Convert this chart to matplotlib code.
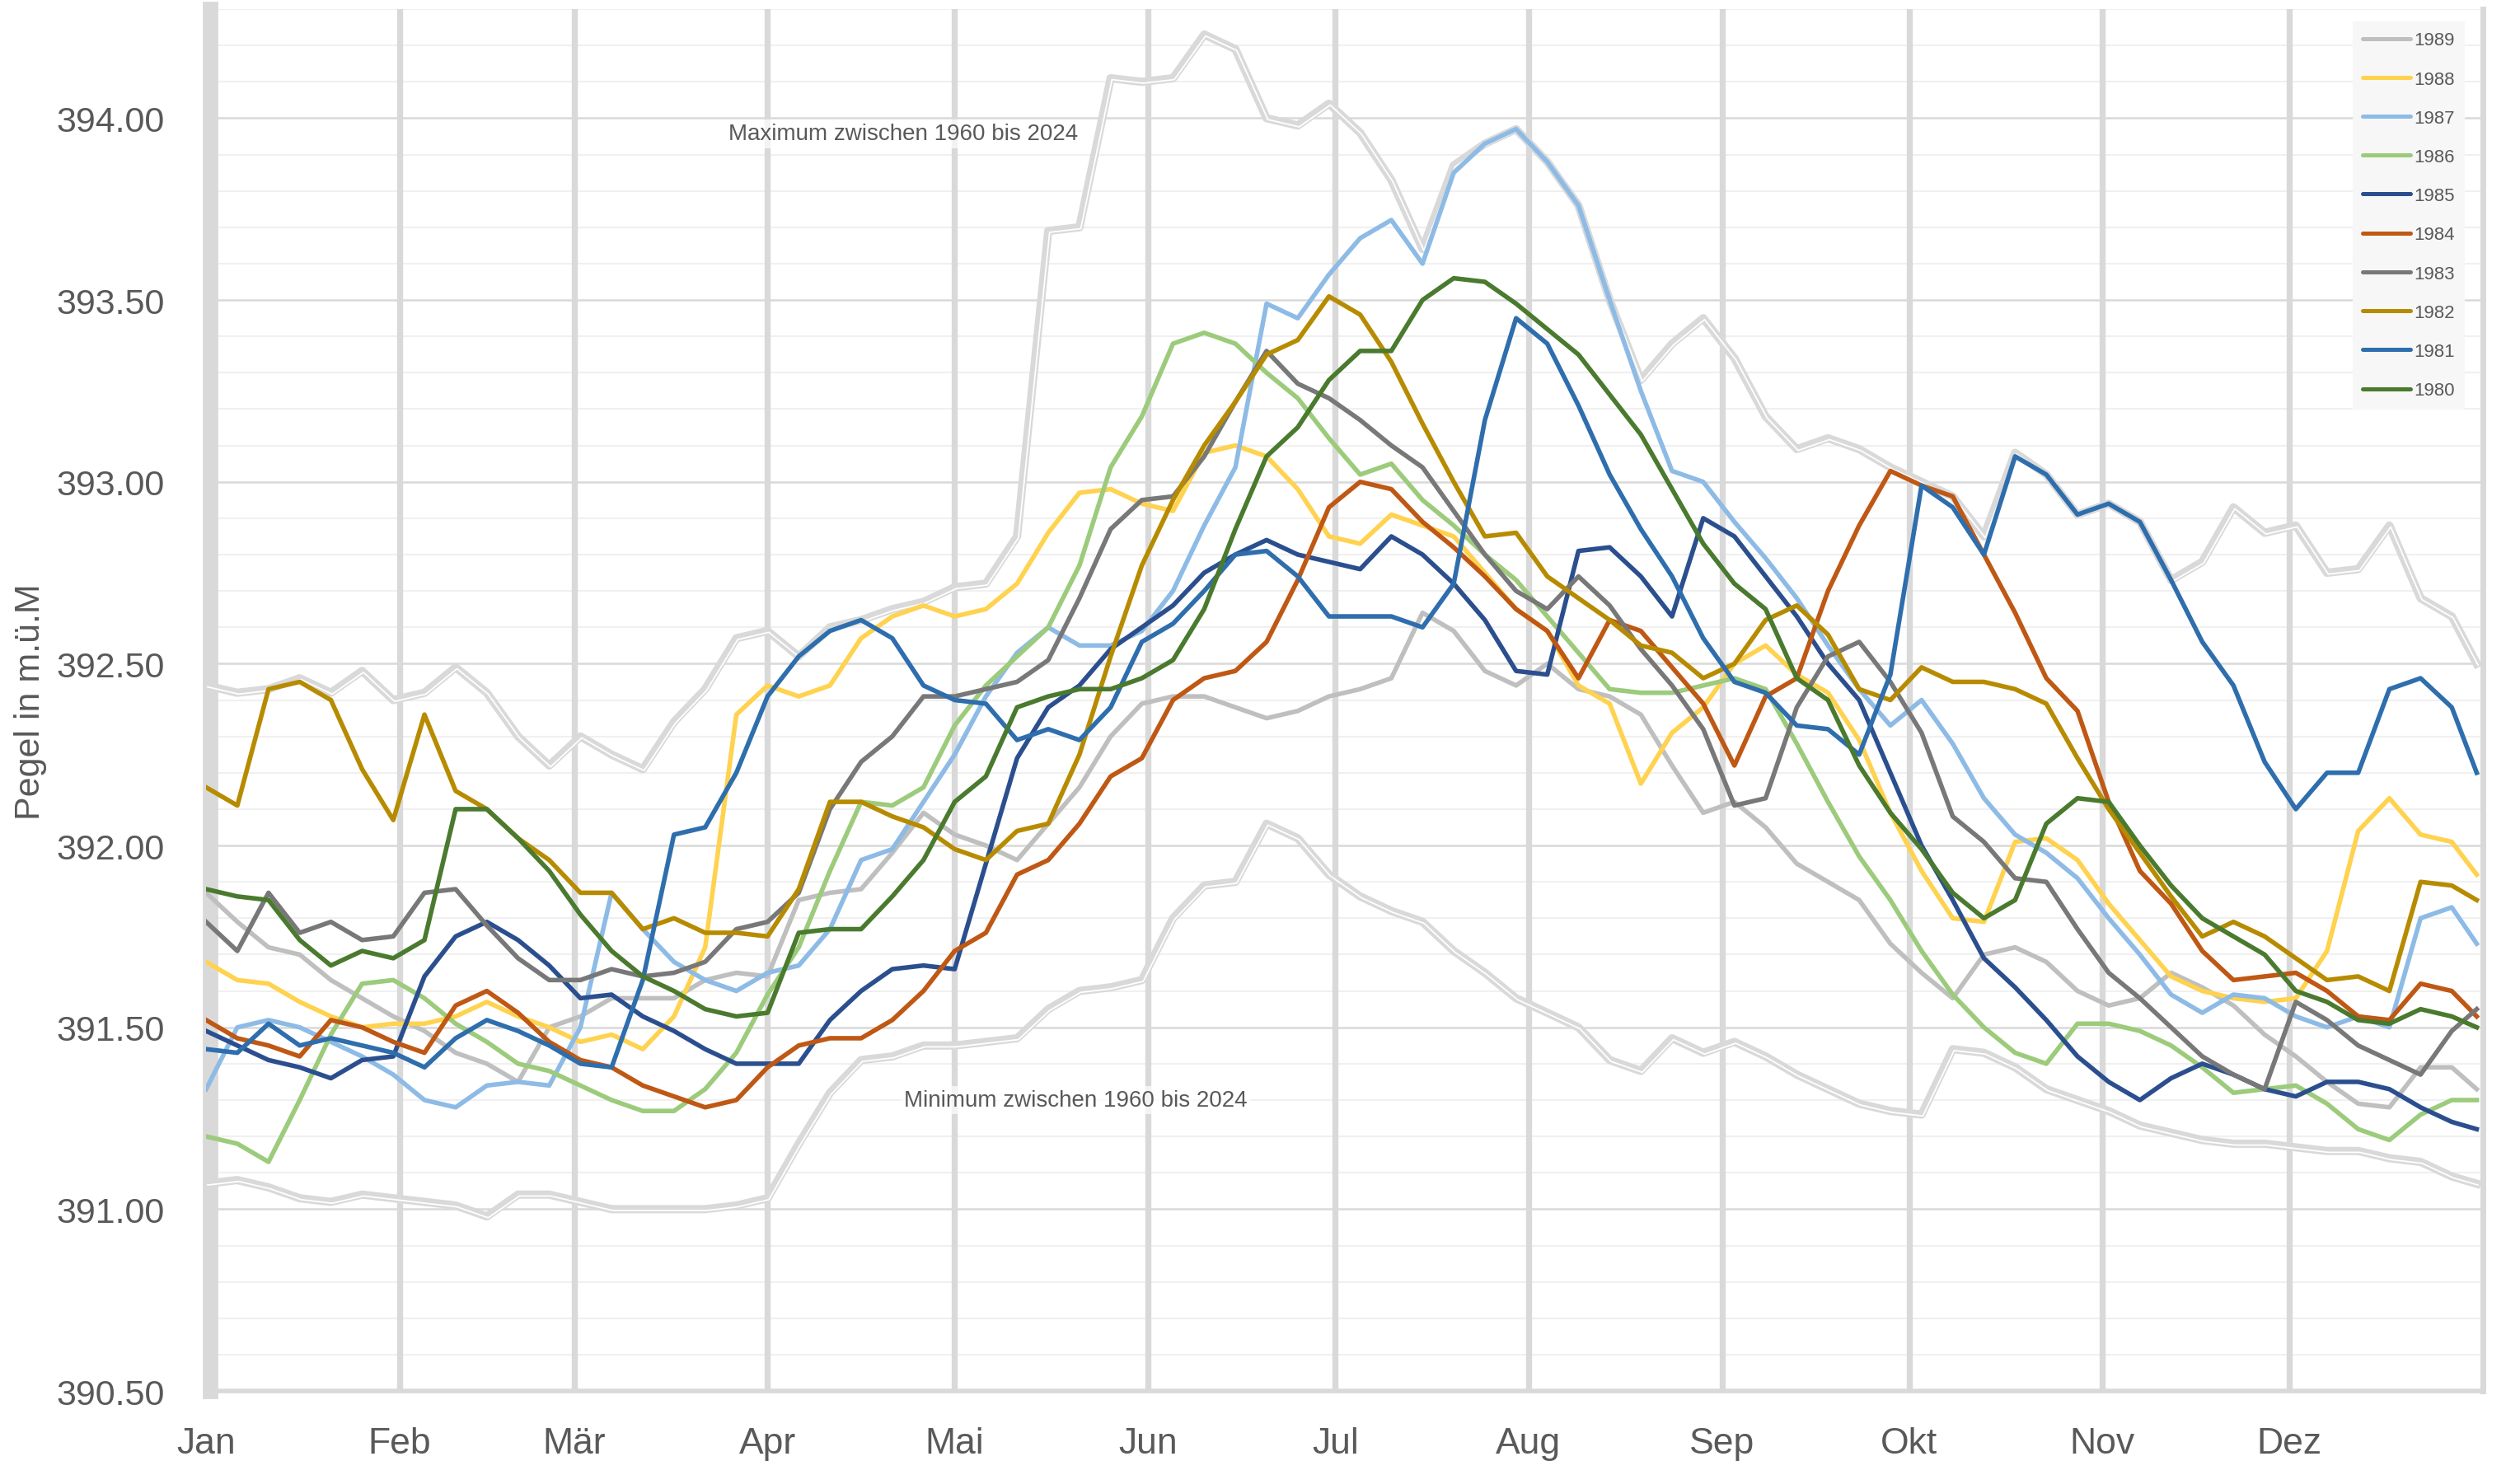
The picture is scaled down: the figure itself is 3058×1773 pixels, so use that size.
import numpy as np
import matplotlib.pyplot as plt
from matplotlib import transforms

# day of year (0 = 1 Jan), one reading every 5 days
days = list(range(0, 361, 5)) + [364]

max_vals = [392.44, 392.42, 392.43, 392.46, 392.42, 392.48, 392.40, 392.42, 392.49, 392.42, 392.30, 392.22, 392.30,
            392.25, 392.21, 392.34, 392.43, 392.57, 392.59, 392.52, 392.60, 392.62, 392.65, 392.67, 392.71,
            392.72, 392.85, 393.69, 393.70, 394.11, 394.10, 394.11, 394.23, 394.19, 394.00, 393.98, 394.04,
            393.96, 393.83, 393.64, 393.87, 393.93, 393.97, 393.88, 393.76, 393.50, 393.28, 393.38, 393.45, 393.34,
            393.18, 393.09, 393.12, 393.09, 393.04, 393.00, 392.96, 392.85, 393.08, 393.02, 392.91, 392.94,
            392.89, 392.73, 392.78, 392.93, 392.86, 392.88, 392.75, 392.76, 392.88, 392.68, 392.63, 392.50]

min_vals = [391.07, 391.08, 391.06, 391.03, 391.02, 391.04, 391.03, 391.02, 391.01, 390.98, 391.04, 391.04, 391.02,
            391.00, 391.00, 391.00, 391.00, 391.01, 391.03, 391.18, 391.32, 391.41, 391.42, 391.45, 391.45,
            391.46, 391.47, 391.55, 391.60, 391.61, 391.63, 391.80, 391.89, 391.90, 392.06, 392.02, 391.92,
            391.86, 391.82, 391.79, 391.71, 391.65, 391.58, 391.54, 391.50, 391.41, 391.38, 391.47, 391.43, 391.46,
            391.42, 391.37, 391.33, 391.29, 391.27, 391.26, 391.44, 391.43, 391.39, 391.33, 391.30, 391.27,
            391.23, 391.21, 391.19, 391.18, 391.18, 391.17, 391.16, 391.16, 391.14, 391.13, 391.09, 391.07]

y1989 = [391.87, 391.79, 391.72, 391.70, 391.63, 391.58, 391.53, 391.49, 391.43, 391.40, 391.35, 391.50, 391.53,
         391.58, 391.58, 391.58, 391.63, 391.65, 391.64, 391.85, 391.87, 391.88, 391.98, 392.09, 392.03,
         392.00, 391.96, 392.06, 392.16, 392.30, 392.39, 392.41, 392.41, 392.38, 392.35, 392.37, 392.41,
         392.43, 392.46, 392.64, 392.59, 392.48, 392.44, 392.50, 392.43, 392.41, 392.36, 392.22, 392.09, 392.12,
         392.05, 391.95, 391.90, 391.85, 391.73, 391.65, 391.58, 391.70, 391.72, 391.68, 391.60, 391.56,
         391.58, 391.65, 391.61, 391.56, 391.48, 391.42, 391.35, 391.29, 391.28, 391.39, 391.39, 391.33]

y1988 = [391.68, 391.63, 391.62, 391.57, 391.53, 391.50, 391.51, 391.51, 391.53, 391.57, 391.53, 391.50, 391.46,
         391.48, 391.44, 391.53, 391.72, 392.36, 392.44, 392.41, 392.44, 392.57, 392.63, 392.66, 392.63,
         392.65, 392.72, 392.86, 392.97, 392.98, 392.94, 392.92, 393.08, 393.10, 393.07, 392.98, 392.85,
         392.83, 392.91, 392.88, 392.85, 392.75, 392.65, 392.59, 392.44, 392.39, 392.17, 392.31, 392.38, 392.50,
         392.55, 392.47, 392.42, 392.29, 392.09, 391.93, 391.80, 391.79, 392.01, 392.02, 391.96, 391.84,
         391.74, 391.64, 391.60, 391.58, 391.57, 391.58, 391.71, 392.04, 392.13, 392.03, 392.01, 391.92]

y1987 = [391.33, 391.50, 391.52, 391.50, 391.46, 391.42, 391.37, 391.30, 391.28, 391.34, 391.35, 391.34, 391.50,
         391.87, 391.77, 391.68, 391.63, 391.60, 391.65, 391.67, 391.77, 391.96, 391.99, 392.12, 392.25,
         392.41, 392.53, 392.60, 392.55, 392.55, 392.59, 392.70, 392.88, 393.04, 393.49, 393.45, 393.57,
         393.67, 393.72, 393.60, 393.85, 393.93, 393.97, 393.88, 393.76, 393.50, 393.25, 393.03, 393.00, 392.89,
         392.79, 392.68, 392.55, 392.43, 392.33, 392.40, 392.28, 392.13, 392.03, 391.98, 391.91, 391.80,
         391.70, 391.59, 391.54, 391.59, 391.58, 391.53, 391.50, 391.53, 391.50, 391.80, 391.83, 391.73]

y1986 = [391.20, 391.18, 391.13, 391.30, 391.48, 391.62, 391.63, 391.58, 391.51, 391.46, 391.40, 391.38, 391.34,
         391.30, 391.27, 391.27, 391.33, 391.43, 391.59, 391.72, 391.93, 392.12, 392.11, 392.16, 392.33,
         392.44, 392.52, 392.60, 392.77, 393.04, 393.18, 393.38, 393.41, 393.38, 393.30, 393.23, 393.12,
         393.02, 393.05, 392.95, 392.88, 392.80, 392.73, 392.63, 392.53, 392.43, 392.42, 392.42, 392.44, 392.46,
         392.43, 392.28, 392.12, 391.97, 391.85, 391.71, 391.59, 391.50, 391.43, 391.40, 391.51, 391.51,
         391.49, 391.45, 391.39, 391.32, 391.33, 391.34, 391.29, 391.22, 391.19, 391.26, 391.30, 391.30]

y1985 = [391.49, 391.45, 391.41, 391.39, 391.36, 391.41, 391.42, 391.64, 391.75, 391.79, 391.74, 391.67, 391.58,
         391.59, 391.53, 391.49, 391.44, 391.40, 391.40, 391.40, 391.52, 391.60, 391.66, 391.67, 391.66,
         391.95, 392.24, 392.38, 392.44, 392.54, 392.60, 392.66, 392.75, 392.80, 392.84, 392.80, 392.78,
         392.76, 392.85, 392.80, 392.72, 392.62, 392.48, 392.47, 392.81, 392.82, 392.74, 392.63, 392.90, 392.85,
         392.74, 392.63, 392.50, 392.40, 392.20, 392.00, 391.85, 391.69, 391.61, 391.52, 391.42, 391.35,
         391.30, 391.36, 391.40, 391.37, 391.33, 391.31, 391.35, 391.35, 391.33, 391.28, 391.24, 391.22]

y1984 = [391.52, 391.47, 391.45, 391.42, 391.52, 391.50, 391.46, 391.43, 391.56, 391.60, 391.54, 391.46, 391.41,
         391.39, 391.34, 391.31, 391.28, 391.30, 391.39, 391.45, 391.47, 391.47, 391.52, 391.60, 391.71,
         391.76, 391.92, 391.96, 392.06, 392.19, 392.24, 392.40, 392.46, 392.48, 392.56, 392.73, 392.93,
         393.00, 392.98, 392.89, 392.82, 392.74, 392.65, 392.59, 392.46, 392.62, 392.59, 392.49, 392.39, 392.22,
         392.41, 392.46, 392.70, 392.88, 393.03, 392.99, 392.96, 392.80, 392.64, 392.46, 392.37, 392.12,
         391.93, 391.84, 391.71, 391.63, 391.64, 391.65, 391.60, 391.53, 391.52, 391.62, 391.60, 391.53]

y1983 = [391.79, 391.71, 391.87, 391.76, 391.79, 391.74, 391.75, 391.87, 391.88, 391.78, 391.69, 391.63, 391.63,
         391.66, 391.64, 391.65, 391.68, 391.77, 391.79, 391.87, 392.10, 392.23, 392.30, 392.41, 392.41,
         392.43, 392.45, 392.51, 392.68, 392.87, 392.95, 392.96, 393.07, 393.22, 393.36, 393.27, 393.23,
         393.17, 393.10, 393.04, 392.92, 392.80, 392.70, 392.65, 392.74, 392.66, 392.54, 392.44, 392.32, 392.11,
         392.13, 392.38, 392.52, 392.56, 392.45, 392.31, 392.08, 392.01, 391.91, 391.90, 391.77, 391.65,
         391.58, 391.50, 391.42, 391.37, 391.33, 391.57, 391.52, 391.45, 391.41, 391.37, 391.49, 391.55]

y1982 = [392.16, 392.11, 392.43, 392.45, 392.40, 392.21, 392.07, 392.36, 392.15, 392.10, 392.02, 391.96, 391.87,
         391.87, 391.77, 391.80, 391.76, 391.76, 391.75, 391.88, 392.12, 392.12, 392.08, 392.05, 391.99,
         391.96, 392.04, 392.06, 392.25, 392.52, 392.77, 392.95, 393.10, 393.22, 393.35, 393.39, 393.51,
         393.46, 393.33, 393.16, 393.00, 392.85, 392.86, 392.74, 392.68, 392.62, 392.55, 392.53, 392.46, 392.50,
         392.62, 392.66, 392.58, 392.43, 392.40, 392.49, 392.45, 392.45, 392.43, 392.39, 392.24, 392.10,
         391.98, 391.86, 391.75, 391.79, 391.75, 391.69, 391.63, 391.64, 391.60, 391.90, 391.89, 391.85]

y1981 = [391.44, 391.43, 391.51, 391.45, 391.47, 391.45, 391.43, 391.39, 391.47, 391.52, 391.49, 391.45, 391.40,
         391.39, 391.63, 392.03, 392.05, 392.20, 392.41, 392.52, 392.59, 392.62, 392.57, 392.44, 392.40,
         392.39, 392.29, 392.32, 392.29, 392.38, 392.56, 392.61, 392.70, 392.80, 392.81, 392.74, 392.63,
         392.63, 392.63, 392.60, 392.72, 393.17, 393.45, 393.38, 393.21, 393.02, 392.87, 392.74, 392.57, 392.45,
         392.42, 392.33, 392.32, 392.25, 392.47, 392.99, 392.93, 392.80, 393.07, 393.02, 392.91, 392.94,
         392.89, 392.73, 392.56, 392.44, 392.23, 392.10, 392.20, 392.20, 392.43, 392.46, 392.38, 392.20]

y1980 = [391.88, 391.86, 391.85, 391.74, 391.67, 391.71, 391.69, 391.74, 392.10, 392.10, 392.02, 391.93, 391.81,
         391.71, 391.64, 391.60, 391.55, 391.53, 391.54, 391.76, 391.77, 391.77, 391.86, 391.96, 392.12,
         392.19, 392.38, 392.41, 392.43, 392.43, 392.46, 392.51, 392.65, 392.87, 393.07, 393.15, 393.28,
         393.36, 393.36, 393.50, 393.56, 393.55, 393.49, 393.42, 393.35, 393.24, 393.13, 392.98, 392.83, 392.72,
         392.65, 392.46, 392.40, 392.22, 392.09, 391.99, 391.87, 391.80, 391.85, 392.06, 392.13, 392.12,
         392.00, 391.89, 391.80, 391.75, 391.70, 391.60, 391.57, 391.52, 391.51, 391.55, 391.53, 391.50]

years = ['1989', '1988', '1987', '1986', '1985', '1984', '1983', '1982', '1981', '1980']
series = [y1989, y1988, y1987, y1986, y1985, y1984, y1983, y1982, y1981, y1980]
colors = ['#bfbfbf', '#ffd24f', '#8dbbe6', '#9ccb7b', '#2b4f8e',
          '#bf5814', '#787878', '#b78b00', '#2e6ead', '#4a7a2e']

month_starts = [0, 31, 59, 90, 120, 151, 181, 212, 243, 273, 304, 334]
month_names = ['Jan', 'Feb', 'Mär', 'Apr', 'Mai', 'Jun', 'Jul', 'Aug', 'Sep', 'Okt', 'Nov', 'Dez']

text_col = '#595959'
grid_col = '#d9d9d9'
narrow = ['Liberation Sans Narrow', 'Liberation Sans', 'DejaVu Sans']
regular = ['Liberation Sans', 'DejaVu Sans']

fig = plt.figure(figsize=(30.58, 17.74), dpi=100)
ax = fig.add_axes([0.0818, 0.0479, 0.9035, 0.9453])
ax.set_xlim(0, 365)
ax.set_ylim(390.5, 394.3)

# horizontal grid
ax.set_yticks(np.arange(390.5, 394.01, 0.5))
ax.set_yticks(np.arange(390.5, 394.31, 0.1), minor=True)
ax.grid(which='minor', axis='y', color='#f0f0f0', lw=1.5, zorder=0)
ax.grid(which='major', axis='y', color=grid_col, lw=1.8, zorder=0)
ax.set_axisbelow(True)
for s in ax.spines.values():
    s.set_visible(False)

# month separators and frame
for m in month_starts[1:]:
    ax.axvline(m, color=grid_col, lw=5.3, zorder=1)
ax.axvline(0.6, color=grid_col, lw=13.5, zorder=1, clip_on=False)
ax.axvline(365, color=grid_col, lw=5, zorder=1, clip_on=False)
ax.axhline(390.5, color=grid_col, lw=4, zorder=1, clip_on=False)

# max / min envelopes: grey band with thin white offset line
shift = transforms.offset_copy(ax.transData, fig=fig, x=1.2, y=-1.2, units='points')
for vals in (max_vals, min_vals):
    ax.plot(days, vals, color=grid_col, lw=7.2, solid_joinstyle='round', zorder=2)
    ax.plot(days, vals, color='white', lw=1.3, transform=shift, zorder=2)

for name, vals, col in zip(years, series, colors):
    ax.plot(days, vals, color=col, lw=4.0, label=name, solid_joinstyle='round', zorder=3)

ax.text(111.8, 393.957, 'Maximum zwischen 1960 bis 2024', ha='center', va='center',
        fontsize=20, color=text_col, family=regular, zorder=4,
        bbox=dict(facecolor='white', edgecolor='none', alpha=0.7, pad=3))
ax.text(139.4, 391.30, 'Minimum zwischen 1960 bis 2024', ha='center', va='center',
        fontsize=20, color=text_col, family=regular, zorder=4,
        bbox=dict(facecolor='white', edgecolor='none', alpha=0.7, pad=3))

ax.set_xticks(month_starts)
ax.set_xticklabels(month_names)
ax.set_yticklabels(['%.2f' % v for v in np.arange(390.5, 394.01, 0.5)])
ax.tick_params(which='both', length=0)
ax.tick_params(axis='x', pad=31, labelsize=32, labelcolor=text_col)
ax.tick_params(axis='y', pad=36, labelsize=31, labelcolor=text_col)
for lab in ax.get_xticklabels() + ax.get_yticklabels():
    lab.set_family(narrow)

fig.text(37 / 3058, 0.520, 'Pegel in m.ü.M', rotation=90, ha='center', va='center',
         fontsize=31, color=text_col, family=regular)

leg = ax.legend(loc='upper right', bbox_to_anchor=(0.992, 0.991), borderaxespad=0,
                frameon=True, fancybox=False, prop={'family': regular, 'size': 16},
                handlelength=2.6, handletextpad=0.2, labelspacing=1.18, borderpad=0.55,
                labelcolor=text_col)
leg.get_frame().set_facecolor('#f7f7f7')
leg.get_frame().set_edgecolor('none')
leg.get_frame().set_alpha(1)
for h in leg.get_lines():
    h.set_linewidth(3.6)
    h.set_solid_capstyle('round')

fig.savefig('out.png', dpi=100)
